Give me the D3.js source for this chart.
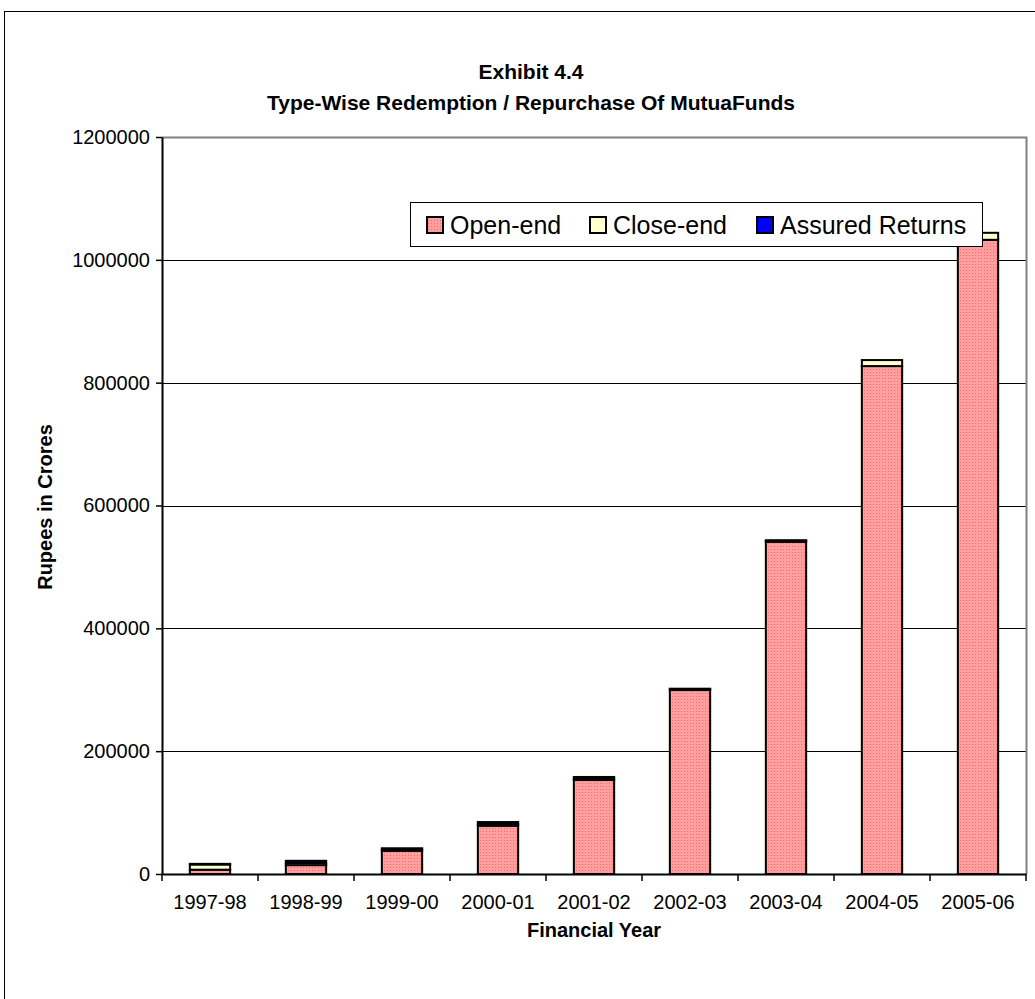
<!DOCTYPE html>
<html>
<head>
<meta charset="utf-8">
<script src="https://cdn.jsdelivr.net/npm/d3@7"></script>
<style>
  body { margin: 0; background: #fff; }
  svg { font-family: "Liberation Sans", Arial, sans-serif; }
</style>
</head>
<body>
<svg width="1035" height="999"></svg>
<script>
// values (Rs crores)
const years = ["1997-98", "1998-99", "1999-00", "2000-01", "2001-02", "2002-03", "2003-04", "2004-05", "2005-06"];
const openEnd = [7000, 14500, 37900, 78600, 153000, 299500, 541000, 827000, 1032600];
const closeEnd = [8500, 3500, 2000, 3000, 2500, 1500, 1800, 9800, 11400];
const assured = [1000, 3500, 2000, 3000, 2500, 700, 500, 0, 0];
const seriesNames = ["Open-end", "Close-end", "Assured Returns"];
const yTicks = [0, 200000, 400000, 600000, 800000, 1000000, 1200000];

const colors = ["url(#pinkDots)", "#ffffcc", "#0000ff"];

const svg = d3.select("svg");

// dotted pink fill like the excel pattern
const defs = svg.append("defs");
const pat = defs.append("pattern")
  .attr("id", "pinkDots")
  .attr("width", 3).attr("height", 3)
  .attr("patternUnits", "userSpaceOnUse");
pat.append("rect").attr("width", 3).attr("height", 3).attr("fill", "#ff9f9f");
pat.append("rect").attr("width", 1).attr("height", 1).attr("fill", "#ff6a6a");

// outer chart frame
svg.append("rect")
  .attr("x", 4.5).attr("y", 11.5)
  .attr("width", 1060).attr("height", 1000)
  .attr("fill", "none").attr("stroke", "#000").attr("stroke-width", 1);

let plotLeft = 162, plotRight = 1026, plotTop = 137, plotBottom = 874;

let x = d3.scaleBand().domain(years).range([plotLeft, plotRight]).paddingInner(0.58).paddingOuter(0.29);
let y = d3.scaleLinear().domain([0, 1200000]).range([plotBottom, plotTop]);

// gridlines
svg.append("g")
  .selectAll("line")
  .data(yTicks.slice(1, -1))
  .enter()
  .append("line")
  .attr("x1", plotLeft).attr("x2", plotRight)
  .attr("y1", (d) => Math.round(y(d)) + 0.5)
  .attr("y2", (d) => Math.round(y(d)) + 0.5)
  .attr("stroke", "#000");

// plot area top / right border (grey)
svg.append("path")
  .attr("d", `M${plotLeft},${plotTop + 0.5}H${plotRight + 0.5}V${plotBottom}`)
  .attr("fill", "none").attr("stroke", "#808080").attr("stroke-width", 2);

// stacked bars
const table = years.map((yr, i) => ({ year: yr, "Open-end": openEnd[i], "Close-end": closeEnd[i], "Assured Returns": assured[i] }));
const stack = d3.stack().keys(seriesNames)(table);

svg.append("g")
  .selectAll("g")
  .data(stack)
  .enter()
  .append("g")
  .attr("fill", (d, i) => colors[i])
  .selectAll("rect")
  .data((d) => d.filter((p) => p[1] > p[0]))
  .enter()
  .append("rect")
  .attr("x", (d) => x(d.data.year))
  .attr("width", x.bandwidth())
  .attr("y", (d) => y(d[1]))
  .attr("height", (d) => y(d[0]) - y(d[1]))
  .attr("stroke", "#000")
  .attr("stroke-width", 2);

// axes
let yAxis = d3.axisLeft(y).tickValues(yTicks).tickSize(6).tickSizeOuter(0).tickFormat(d3.format("d"));
let gy = svg.append("g")
  .attr("transform", "translate(" + plotLeft + ",0)")
  .call(yAxis);
gy.select(".domain").attr("stroke", "#000").attr("stroke-width", 2);
gy.selectAll(".tick line").attr("stroke-width", 1.5);
gy.selectAll("text").attr("font-size", 20).attr("fill", "#000").attr("x", -12);

let xAxis = d3.axisBottom(x).tickSize(0).tickSizeOuter(0);
let gx = svg.append("g")
  .attr("transform", "translate(0," + plotBottom + ")")
  .call(xAxis);
gx.select(".domain").attr("stroke", "#000").attr("stroke-width", 2);
gx.selectAll("text").attr("font-size", 20).attr("fill", "#000").attr("y", 35).attr("dy", 0);
// category boundary ticks
gx.selectAll(".sep")
  .data(d3.range(years.length + 1))
  .enter()
  .append("line")
  .attr("class", "sep")
  .attr("x1", (i) => plotLeft + i * x.step())
  .attr("x2", (i) => plotLeft + i * x.step())
  .attr("y1", 0).attr("y2", 7)
  .attr("stroke", "#000").attr("stroke-width", 1.5);

// titles
svg.append("text").attr("x", 531).attr("y", 79).attr("text-anchor", "middle")
  .attr("font-weight", "bold").attr("font-size", 21).text("Exhibit 4.4");
svg.append("text").attr("x", 531).attr("y", 110).attr("text-anchor", "middle")
  .attr("font-weight", "bold").attr("font-size", 21).text("Type-Wise Redemption / Repurchase Of MutuaFunds");
svg.append("text").attr("x", 594).attr("y", 937).attr("text-anchor", "middle")
  .attr("font-weight", "bold").attr("font-size", 20).text("Financial Year");
svg.append("text")
  .attr("transform", "translate(52,507) rotate(-90)")
  .attr("text-anchor", "middle")
  .attr("font-weight", "bold").attr("font-size", 20).text("Rupees in Crores");

// legend
let legend = svg.append("g").attr("transform", "translate(410,202)");
legend.append("rect").attr("x", 0.5).attr("y", 0.5).attr("width", 572).attr("height", 44)
  .attr("fill", "#fff").attr("stroke", "#000");
const legendX = [17, 180, 347];
seriesNames.forEach((name, i) => {
  legend.append("rect")
    .attr("x", legendX[i]).attr("y", 15).attr("width", 16).attr("height", 16)
    .attr("fill", colors[i])
    .attr("stroke", "#000").attr("stroke-width", 2);
  legend.append("text")
    .attr("x", legendX[i] + 23).attr("y", 32)
    .attr("font-size", 25).text(name);
});
</script>
</body>
</html>
